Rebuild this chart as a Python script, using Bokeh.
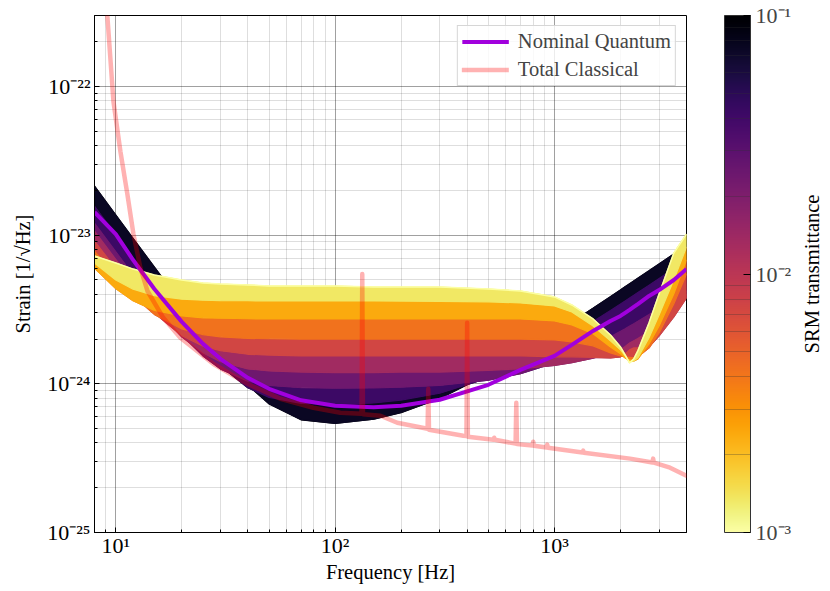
import math
from bokeh.plotting import figure
from bokeh.layouts import row
from bokeh.models import (ColumnDataSource, LogColorMapper, ColorBar, FixedTicker,
                          CustomJSTickFormatter, Legend, LegendItem)
from bokeh.palettes import Inferno256
from bokeh.transform import transform
from bokeh.embed import file_html
from bokeh.resources import INLINE

# ---------------- data ----------------
freq_hz = [8, 10, 12, 15, 20, 25, 30, 40, 50, 70, 100, 150, 200, 300, 500, 700,
           1000, 1200, 1500, 1800, 2000, 2100, 2200, 2300, 2400, 2700, 3000, 3500, 4000]

srm_transmittance = [1e-3, 1.78e-3, 3.16e-3, 5.62e-3, 1e-2, 1.78e-2, 3.16e-2, 5.62e-2, 1e-1]

strain_T0p001 = [7.23e-24, 6.49e-24, 5.91e-24, 5.39e-24, 4.99e-24, 4.76e-24, 4.69e-24, 4.62e-24,
                 4.55e-24, 4.55e-24, 4.55e-24, 4.48e-24, 4.48e-24, 4.48e-24, 4.34e-24, 4.21e-24,
                 3.84e-24, 3.39e-24, 2.73e-24, 2.13e-24, 1.77e-24, 1.565e-24, 1.383e-24, 1.472e-24,
                 1.666e-24, 2.57e-24, 4.02e-24, 7.57e-24, 1.016e-23]
strain_T0p00178 = [6.49e-24, 4.99e-24, 4.33e-24, 3.92e-24, 3.71e-24, 3.65e-24, 3.63e-24, 3.62e-24,
                   3.61e-24, 3.61e-24, 3.61e-24, 3.61e-24, 3.60e-24, 3.59e-24, 3.56e-24, 3.50e-24,
                   3.34e-24, 3.04e-24, 2.45e-24, 1.944e-24, 1.691e-24, 1.541e-24, 1.405e-24, 1.427e-24,
                   1.495e-24, 2.04e-24, 2.90e-24, 4.99e-24, 8.31e-24]
strain_T0p00316 = [6.00e-24, 4.37e-24, 3.62e-24, 3.12e-24, 2.86e-24, 2.78e-24, 2.76e-24, 2.74e-24,
                   2.73e-24, 2.73e-24, 2.73e-24, 2.73e-24, 2.73e-24, 2.73e-24, 2.73e-24, 2.73e-24,
                   2.65e-24, 2.49e-24, 2.17e-24, 1.77e-24, 1.590e-24, 1.495e-24, 1.449e-24, 1.427e-24,
                   1.472e-24, 1.856e-24, 2.45e-24, 4.02e-24, 6.80e-24]
strain_T0p00562 = [7.81e-24, 5.23e-24, 3.91e-24, 2.93e-24, 2.34e-24, 2.14e-24, 2.07e-24, 2.02e-24,
                   2.01e-24, 2.00e-24, 2.00e-24, 2.00e-24, 2.00e-24, 2.00e-24, 2.00e-24, 2.00e-24,
                   1.974e-24, 1.914e-24, 1.80e-24, 1.614e-24, 1.541e-24, 1.518e-24, 1.507e-24, 1.495e-24,
                   1.518e-24, 1.744e-24, 2.20e-24, 3.44e-24, 5.47e-24]
strain_T0p01 = [9.12e-24, 5.96e-24, 4.28e-24, 2.99e-24, 2.11e-24, 1.79e-24, 1.67e-24, 1.58e-24,
                1.56e-24, 1.54e-24, 1.54e-24, 1.54e-24, 1.54e-24, 1.54e-24, 1.54e-24, 1.54e-24,
                1.518e-24, 1.518e-24, 1.507e-24, 1.495e-24, 1.518e-24, 1.590e-24, 1.691e-24, 1.744e-24,
                1.744e-24, 1.77e-24, 2.10e-24, 2.82e-24, 3.78e-24]
strain_T0p0178 = [1.064e-23, 6.87e-24, 4.85e-24, 3.23e-24, 2.07e-24, 1.61e-24, 1.41e-24, 1.26e-24,
                  1.22e-24, 1.20e-24, 1.19e-24, 1.19e-24, 1.20e-24, 1.20e-24, 1.23e-24, 1.26e-24,
                  1.33e-24, 1.39e-24, 1.49e-24, 1.60e-24, 1.70e-24, 1.78e-24, 1.88e-24, 1.95e-24,
                  2.02e-24, 2.25e-24, 2.55e-24, 3.10e-24, 4.00e-24]
strain_T0p0316 = [1.204e-23, 7.74e-24, 5.41e-24, 3.54e-24, 2.13e-24, 1.54e-24, 1.26e-24, 1.04e-24,
                  9.75e-25, 9.41e-25, 9.34e-25, 9.38e-25, 9.48e-25, 9.75e-25, 1.058e-24, 1.172e-24,
                  1.383e-24, 1.542e-24, 1.798e-24, 2.068e-24, 2.254e-24, 2.348e-24, 2.443e-24, 2.538e-24,
                  2.634e-24, 2.925e-24, 3.22e-24, 3.713e-24, 4.214e-24]
strain_T0p0562 = [1.566e-23, 1.003e-23, 6.99e-24, 4.50e-24, 2.60e-24, 1.75e-24, 1.32e-24, 9.41e-25,
                  8.11e-25, 7.39e-25, 7.27e-25, 7.44e-25, 7.77e-25, 8.64e-25, 1.096e-24, 1.373e-24,
                  1.826e-24, 2.142e-24, 2.625e-24, 3.116e-24, 3.445e-24, 3.611e-24, 3.776e-24, 3.942e-24,
                  4.108e-24, 4.607e-24, 5.109e-24, 5.945e-24, 6.783e-24]
strain_T0p1 = [2.13e-23, 1.364e-23, 9.48e-24, 6.08e-24, 3.44e-24, 2.23e-24, 1.59e-24, 9.81e-25,
               7.34e-25, 5.74e-25, 5.42e-25, 5.79e-25, 6.42e-25, 7.98e-25, 1.165e-24, 1.562e-24,
               2.18e-24, 2.59e-24, 3.22e-24, 3.85e-24, 4.27e-24, 4.49e-24, 4.70e-24, 4.91e-24,
               5.12e-24, 5.75e-24, 6.39e-24, 7.45e-24, 8.51e-24]

nominal_quantum = [1.43e-23, 1.016e-23, 6.80e-24, 4.34e-24, 2.61e-24, 1.856e-24, 1.472e-24, 1.097e-24,
                   9.26e-25, 7.75e-25, 7.12e-25, 6.96e-25, 7.12e-25, 7.81e-25, 9.85e-25, 1.242e-24,
                   1.541e-24, 1.827e-24, 2.268e-24, 2.647e-24, 2.86e-24, 3.00e-24, 3.14e-24, 3.29e-24,
                   3.44e-24, 3.90e-24, 4.27e-24, 4.99e-24, 5.91e-24]

classical_freq = [8.5, 9.16, 9.76, 10.5, 11.3, 12.04, 12.96, 13.95, 16.5, 19.7, 27.9, 39.8, 56.3,
                  79.6, 105.7, 132, 133, 134, 161, 192, 264, 266, 268, 384, 397, 400, 403,
                  527, 531, 535, 665, 670, 675, 794, 800, 806, 920, 927, 934, 1342, 1352, 1362,
                  2213, 2797, 2818, 2839, 3365, 4000]
classical_strain = [1.38e-21, 2.95e-22, 7.93e-23, 3.66e-23, 1.88e-23, 1.016e-23, 6.0e-24, 4.21e-24,
                    2.77e-24, 2.04e-24, 1.36e-24, 1.0e-24, 7.94e-25, 6.90e-25, 6.39e-25, 6.30e-25,
                    5.47e-24, 6.25e-25, 6.10e-25, 5.47e-25, 4.99e-25, 9.25e-25, 4.91e-25, 4.48e-25,
                    4.45e-25, 2.57e-24, 4.41e-25, 4.21e-25, 4.34e-25, 4.20e-25, 3.96e-25, 7.45e-25,
                    3.93e-25, 3.85e-25, 4.08e-25, 3.83e-25, 3.73e-25, 3.90e-25, 3.71e-25, 3.45e-25,
                    3.55e-25, 3.44e-25, 3.14e-25, 2.96e-25, 3.14e-25, 2.95e-25, 2.73e-25, 2.41e-25]

colorbar_major = [1e-3, 1e-2, 1e-1]
colorbar_minor = [2e-3, 3e-3, 4e-3, 5e-3, 6e-3, 7e-3, 8e-3, 9e-3,
                  2e-2, 3e-2, 4e-2, 5e-2, 6e-2, 7e-2, 8e-2, 9e-2]

curves = [strain_T0p001, strain_T0p00178, strain_T0p00316, strain_T0p00562, strain_T0p01,
          strain_T0p0178, strain_T0p0316, strain_T0p0562, strain_T0p1]

# ---------------- figure ----------------
FONT = "Liberation Serif"
mapper = LogColorMapper(palette=list(reversed(Inferno256)), low=1e-3, high=1e-1)

sup_fmt = CustomJSTickFormatter(code="""
const sup = {'-':'\u207b','0':'\u2070','1':'\u00b9','2':'\u00b2','3':'\u00b3','4':'\u2074',
             '5':'\u2075','6':'\u2076','7':'\u2077','8':'\u2078','9':'\u2079'};
const e = Math.round(Math.log10(tick));
return '10' + String(e).split('').map(c => sup[c]).join('');
""")

TOP, BOTTOM = 15, 56
p = figure(frame_width=592, frame_height=517, x_axis_type="log", y_axis_type="log",
           x_range=(8, 4000), y_range=(1e-25, 3e-22),
           min_border_left=94, min_border_right=112, min_border_top=TOP, min_border_bottom=BOTTOM,
           output_backend="svg", toolbar_location=None)
p.background_fill_color = "white"
p.border_fill_color = "white"
p.outline_line_color = "black"
p.outline_line_width = 1

for ax in (p.xaxis, p.yaxis):
    ax.formatter = sup_fmt
    ax.major_label_text_font = FONT
    ax.major_label_text_font_size = "22px"
    ax.major_label_text_color = "black"
    ax.axis_label_text_font = FONT
    ax.axis_label_text_font_size = "20.5px"
    ax.axis_label_text_font_style = "normal"
    ax.axis_label_text_color = "black"
    ax.axis_line_color = "black"
    ax.major_tick_in = 5
    ax.major_tick_out = 0
    ax.minor_tick_in = 3
    ax.minor_tick_out = 0
    ax.major_tick_line_color = "black"
    ax.minor_tick_line_color = "black"
p.xaxis.axis_label = "Frequency [Hz]"
p.yaxis.axis_label = "Strain [1/\u221aHz]"
p.xaxis.major_label_standoff = 0
p.xaxis.axis_label_standoff = 0
p.yaxis.major_label_standoff = 4
p.yaxis.axis_label_standoff = 10

for g in (p.xgrid, p.ygrid):
    g.grid_line_color = "black"
    g.grid_line_alpha = 0.17
    g.minor_grid_line_color = "black"
    g.minor_grid_line_alpha = 0.13

# darkest (T = 0.1) edge first
p.line(freq_hz, strain_T0p1, line_color="#000004", line_width=1.5)

# bands between neighbouring transmittance curves, darkest first, lightest on top
xs, ys, tt = [], [], []
for k in range(len(curves) - 2, -1, -1):
    xs.append(freq_hz + freq_hz[::-1])
    ys.append(curves[k] + curves[k + 1][::-1])
    tt.append(math.sqrt(srm_transmittance[k] * srm_transmittance[k + 1]))
band_src = ColumnDataSource(dict(xs=xs, ys=ys, t=tt))
p.patches("xs", "ys", source=band_src, fill_color=transform("t", mapper),
          line_color=transform("t", mapper), line_width=1.2)

p.line(freq_hz, strain_T0p001, line_color="#fcffa4", line_width=1.5)

r_nom = p.line(freq_hz, nominal_quantum, line_color="#a100dd", line_width=4)
r_cl = p.line(classical_freq, classical_strain, line_color="red", line_alpha=0.3,
              line_width=4.5, line_join="round", line_cap="round")

legend = Legend(items=[LegendItem(label="Nominal Quantum", renderers=[r_nom]),
                       LegendItem(label="Total Classical", renderers=[r_cl])],
                location="top_right", margin=10, padding=4, spacing=5,
                glyph_width=47, glyph_height=21, label_height=21, label_standoff=9,
                label_text_font=FONT, label_text_font_size="20.5px",
                border_line_color="#cccccc", border_line_alpha=0.8,
                background_fill_alpha=0.8)
p.add_layout(legend)

cb = ColorBar(color_mapper=mapper,
              ticker=FixedTicker(ticks=colorbar_major, minor_ticks=colorbar_minor),
              formatter=sup_fmt,
              width=26, height=517, padding=0, margin=0, location=(38, 0),
              bar_line_color="#333333", bar_line_width=1,
              major_tick_line_color="black", major_tick_in=7, major_tick_out=0,
              minor_tick_line_color="#333333", minor_tick_line_alpha=0.3,
              minor_tick_in=26, minor_tick_out=0,
              major_label_text_font=FONT, major_label_text_font_size="22px",
              label_standoff=5)
p.add_layout(cb, "right")

# side strip carrying the colour-bar title (reads bottom to top)
p2 = figure(width=26, frame_height=517, x_range=(0, 1), y_range=(0, 1),
            min_border_left=0, min_border_right=0, min_border_top=TOP, min_border_bottom=BOTTOM,
            output_backend="svg", toolbar_location=None)
p2.axis.visible = False
p2.grid.visible = False
p2.outline_line_color = None
p2.background_fill_color = "white"
p2.border_fill_color = "white"
p2.text(x=[0.5], y=[0.5], text=["SRM transmittance"], angle=math.pi / 2,
        text_align="center", text_baseline="middle", text_font_size="20.5px",
        text_font=FONT, text_color="black")

layout = row(p, p2)
open("out.html", "w").write(file_html(layout, INLINE))
